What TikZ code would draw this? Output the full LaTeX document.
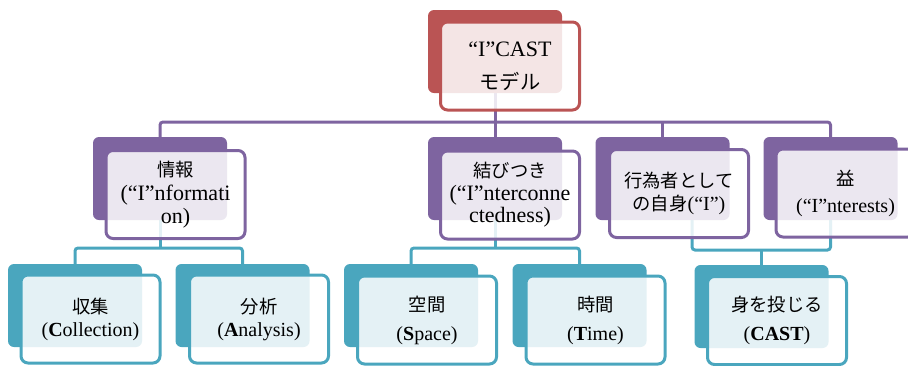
\documentclass[tikz,border=0pt]{standalone}
\usepackage{fontspec}
\setmainfont{Liberation Serif}
\newfontfamily\jp{Noto Sans CJK JP}[Scale=0.92]
\newcommand{\J}[1]{{\jp\fontsize{19.9}{22}\selectfont #1}}
\usetikzlibrary{calc}
\pgfdeclarelayer{bg}
\pgfsetlayers{bg,main}
\definecolor{cred}{RGB}{186,84,84}
\definecolor{cpur}{RGB}{126,100,160}
\definecolor{ctea}{RGB}{74,166,190}
\tikzset{
 backbox/.style={rounded corners=6pt, fill=#1, draw=none, minimum width=134pt, minimum height=83pt, inner sep=0pt},
 frontbox/.style={rounded corners=7pt, draw=#1, line width=3pt, fill=white, fill opacity=0.85, text opacity=1, minimum width=139pt, minimum height=88pt, align=center, inner sep=0pt, font=\fontsize{20}{23}\selectfont},
 bigtext/.style={font=\fontsize{22}{22.5}\selectfont},
 conn/.style={draw=#1, line width=3pt, rounded corners=3pt},
}
\begin{document}
\begin{tikzpicture}[x=1pt,y=-1pt]
\useasboundingbox (0,0) rectangle (908,365);
\clip (0,0) rectangle (908,365);
\coordinate (busA) at (495,122);
\coordinate (busB) at (160,248);
\coordinate (busC) at (495,248);
\coordinate (busD) at (762,250);
% top
\node[backbox=cred] (b0) at (495,51.5) {};
\node[frontbox=cred, font=\fontsize{22}{25}\selectfont] (f0) at (510,66) {“I”CAST\\[8pt]{\jp モデル}};
% level 2
\node[backbox=cpur] (b1) at (160,178.5) {};
\node[frontbox=cpur, bigtext] (f1) at (175.5,194.5) {\J{情報}\\[2pt](“I”nformati\\on)};
\node[backbox=cpur] (b2) at (495,178.5) {};
\node[frontbox=cpur, bigtext] (f2) at (510,195) {\J{結びつき}\\(“I”nterconne\\ctedness)};
\node[backbox=cpur] (b3) at (662.5,178.5) {};
\node[frontbox=cpur] (f3) at (679,193.5) {\J{行為者として}\\\J{の自身}(“I”)};
\node[backbox=cpur] (b4) at (830.5,178.5) {};
\node[frontbox=cpur] (f4) at (845.5,193) {\J{益}\\[4pt](“I”nterests)};
% level 3
\node[backbox=ctea] (c1) at (75,305.5) {};
\node[frontbox=ctea] (g1) at (90.5,319) {\J{収集}\\(\textbf{C}ollection)};
\node[backbox=ctea] (c2) at (242.5,305.5) {};
\node[frontbox=ctea] (g2) at (259,319) {\J{分析}\\(\textbf{A}nalysis)};
\node[backbox=ctea] (c3) at (411,305.5) {};
\node[frontbox=ctea] (g3) at (427,320) {\J{空間}\\[6pt](\textbf{S}pace)};
\node[backbox=ctea] (c4) at (579.5,305.5) {};
\node[frontbox=ctea] (g4) at (595.5,320) {\J{時間}\\[6pt](\textbf{T}ime)};
\node[backbox=ctea] (c5) at (761.5,306.5) {};
\node[frontbox=ctea] (g5) at (777,320.5) {\J{身を投じる}\\[6pt](\textbf{CAST})};
\begin{pgfonlayer}{bg}
\draw[conn=cpur] (b0.center) -- (b0.center |- busA);
\draw[conn=cpur] (b1.center) |- (b4.center |- busA) -- (b4.center);
\draw[conn=cpur] (b2.center) -- (b2.center |- busA);
\draw[conn=cpur] (b3.center) -- (b3.center |- busA);
\draw[conn=ctea] (b1.center) -- (b1.center |- busB);
\draw[conn=ctea] (c1.center) |- (c2.center |- busB) -- (c2.center);
\draw[conn=ctea] (b2.center) -- (b2.center |- busC);
\draw[conn=ctea] (c3.center) |- (c4.center |- busC) -- (c4.center);
\draw[conn=ctea] ($(b3.center)+(29.5,0)$) |- (b4.center |- busD) -- (b4.center);
\draw[conn=ctea] (c5.center) -- (c5.center |- busD);
\end{pgfonlayer}
\end{tikzpicture}
\end{document}
